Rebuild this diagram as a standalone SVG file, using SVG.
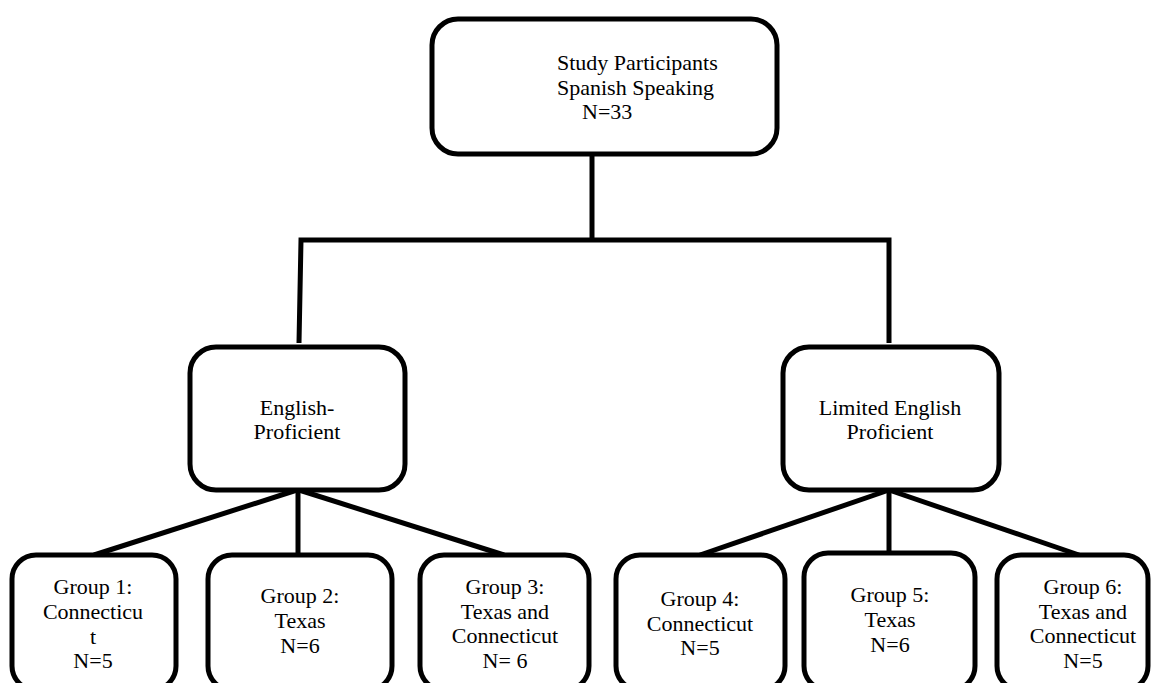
<svg xmlns="http://www.w3.org/2000/svg" width="1157" height="683" viewBox="0 0 1157 683">
<style>
.box{fill:#fff;stroke:#000;stroke-width:5}
.t{font-family:"Liberation Serif","Times New Roman",serif;font-size:22px;fill:#000}
.c{text-anchor:middle}
.ln{stroke:#000;stroke-width:5;fill:none}
</style>
<rect width="1157" height="683" fill="#fff"/>
<g id="connectors">
<line class="ln" x1="592" y1="154" x2="592" y2="240"/>
<polyline class="ln" points="299,343 301,240 889,240 889,343"/>
<line class="ln" x1="297" y1="490" x2="94" y2="555"/>
<line class="ln" x1="298" y1="490" x2="298" y2="555"/>
<line class="ln" x1="299" y1="490" x2="504" y2="555"/>
<line class="ln" x1="889" y1="490" x2="700" y2="555"/>
<line class="ln" x1="889" y1="490" x2="889" y2="553"/>
<line class="ln" x1="889" y1="490" x2="1079" y2="555"/>
</g>
<g id="root">
<rect class="box" x="432" y="19" width="345" height="135" rx="26"/>
<text class="t" x="557" y="70">Study Participants</text>
<text class="t" x="557" y="95">Spanish Speaking</text>
<text class="t" x="582" y="119">N=33</text>
</g>
<g id="english-proficient">
<rect class="box" x="190" y="347" width="215" height="143" rx="26"/>
<text class="t c" x="297" y="415">English-</text>
<text class="t c" x="297" y="439">Proficient</text>
</g>
<g id="limited-english">
<rect class="box" x="783" y="347" width="216" height="143" rx="26"/>
<text class="t c" x="890" y="415">Limited English</text>
<text class="t c" x="890" y="439">Proficient</text>
</g>
<g id="group1">
<rect class="box" x="12" y="555" width="164" height="135" rx="24"/>
<text class="t c" x="93" y="594">Group 1:</text>
<text class="t c" x="93" y="619">Connecticu</text>
<text class="t c" x="93" y="644">t</text>
<text class="t c" x="93" y="668">N=5</text>
</g>
<g id="group2">
<rect class="box" x="208" y="555" width="184" height="135" rx="24"/>
<text class="t c" x="300" y="603">Group 2:</text>
<text class="t c" x="300" y="628">Texas</text>
<text class="t c" x="300" y="653">N=6</text>
</g>
<g id="group3">
<rect class="box" x="420" y="555" width="169" height="135" rx="24"/>
<text class="t c" x="505" y="594">Group 3:</text>
<text class="t c" x="505" y="619">Texas and</text>
<text class="t c" x="505" y="643">Connecticut</text>
<text class="t c" x="505" y="668">N= 6</text>
</g>
<g id="group4">
<rect class="box" x="616" y="555" width="169" height="135" rx="24"/>
<text class="t c" x="700" y="606">Group 4:</text>
<text class="t c" x="700" y="631">Connecticut</text>
<text class="t c" x="700" y="655">N=5</text>
</g>
<g id="group5">
<rect class="box" x="804" y="553" width="171" height="137" rx="24"/>
<text class="t c" x="890" y="602">Group 5:</text>
<text class="t c" x="890" y="627">Texas</text>
<text class="t c" x="890" y="652">N=6</text>
</g>
<g id="group6">
<rect class="box" x="997" y="555" width="151" height="135" rx="24"/>
<text class="t c" x="1083" y="594">Group 6:</text>
<text class="t c" x="1083" y="619">Texas and</text>
<text class="t c" x="1083" y="643">Connecticut</text>
<text class="t c" x="1083" y="668">N=5</text>
</g>
</svg>
